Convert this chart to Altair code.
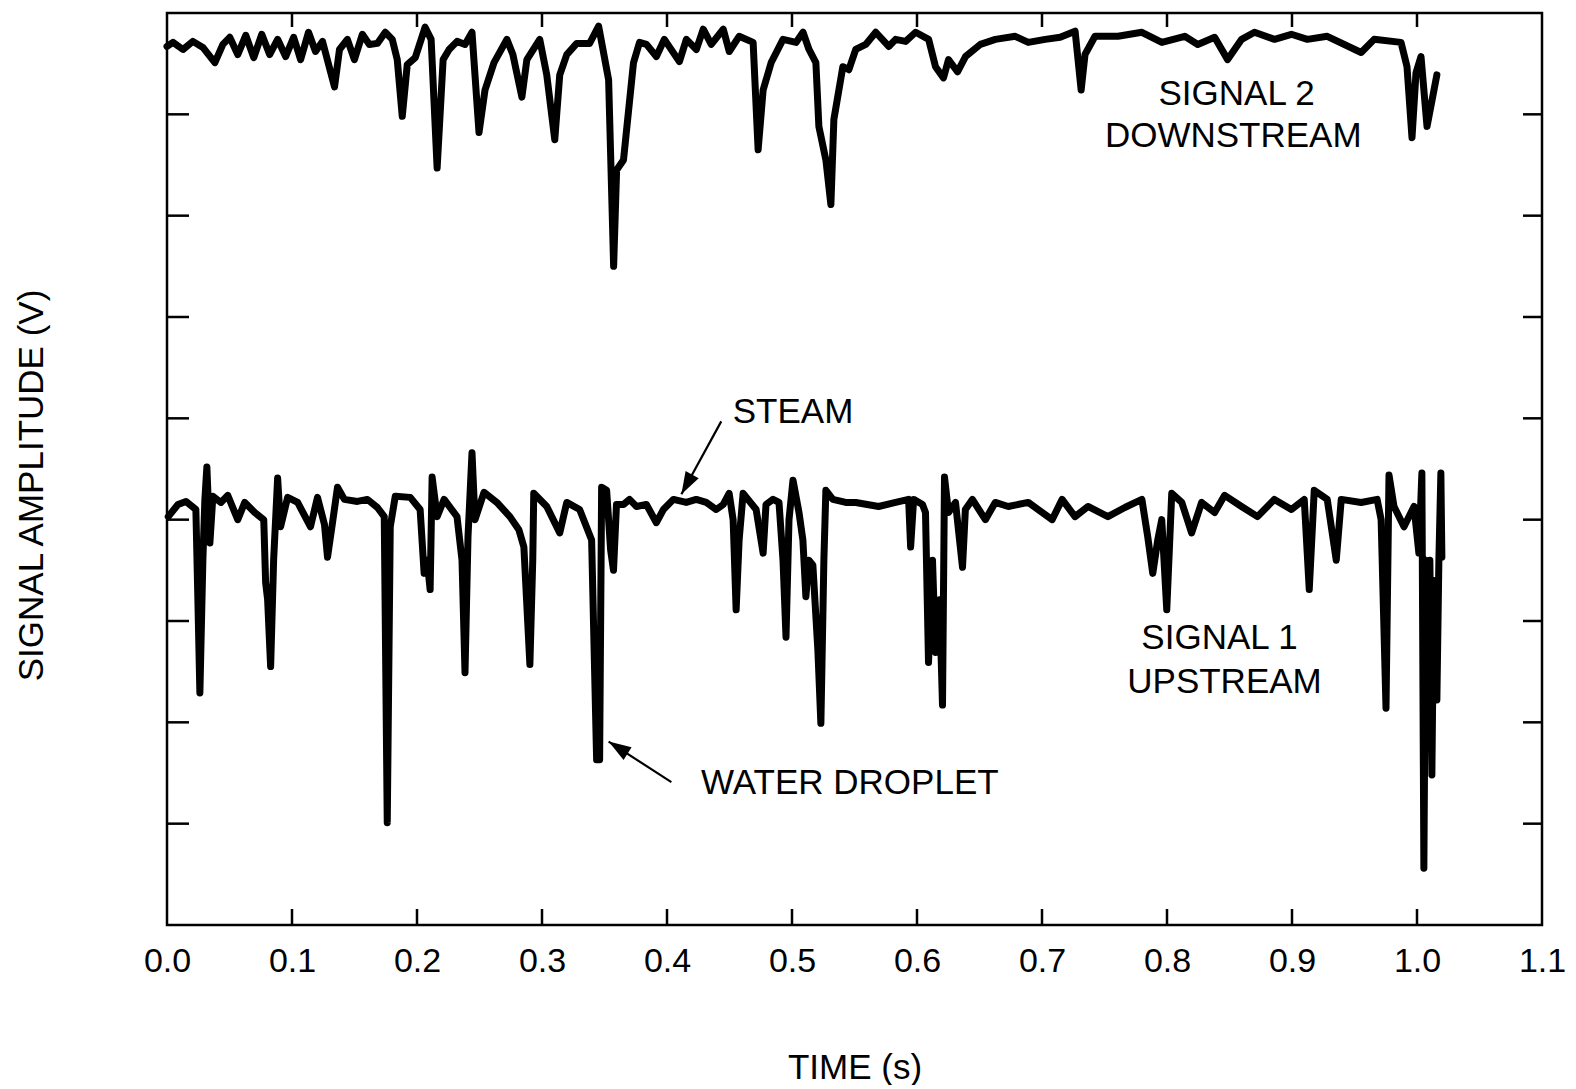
import altair as alt
import pandas as pd

# ---- Signal 2 (downstream), time in s, amplitude in divisions ----
t2 = [0.0, 0.0048, 0.0128, 0.0207, 0.0287, 0.0383, 0.0447, 0.0502, 0.0566, 0.0630,
      0.0694, 0.0758, 0.0821, 0.0885, 0.0949, 0.1013, 0.1069, 0.1132, 0.1188, 0.1244,
      0.1340, 0.1380, 0.1443, 0.1499, 0.1563, 0.1619, 0.1683, 0.1746, 0.1802, 0.1842,
      0.1882, 0.1922, 0.1986, 0.2065, 0.2113, 0.2161, 0.2209, 0.2257, 0.2321, 0.2384,
      0.2440, 0.2496, 0.2544, 0.2616, 0.2719, 0.2767, 0.2839, 0.2879, 0.2982, 0.3038,
      0.3102, 0.3142, 0.3198, 0.3278, 0.3381, 0.3453, 0.3533, 0.3573, 0.3597, 0.3652,
      0.3732, 0.3780, 0.3836, 0.3915, 0.3979, 0.4099, 0.4155, 0.4235, 0.4290, 0.4354,
      0.4450, 0.4498, 0.4577, 0.4689, 0.4729, 0.4769, 0.4833, 0.4928, 0.5032, 0.5088,
      0.5136, 0.5191, 0.5215, 0.5271, 0.5311, 0.5335, 0.5407, 0.5455, 0.5510, 0.5590,
      0.5670, 0.5774, 0.5829, 0.5909, 0.5989, 0.6093, 0.6148, 0.6212, 0.6252, 0.6324,
      0.6388, 0.6507, 0.6627, 0.6786, 0.6890, 0.7026, 0.7145, 0.7265, 0.7313, 0.7344,
      0.7424, 0.7608, 0.7799, 0.7959, 0.8142, 0.8246, 0.8381, 0.8485, 0.8597, 0.8700,
      0.8860, 0.8995, 0.9123, 0.9282, 0.9553, 0.9657, 0.9872, 0.9920, 0.9960, 0.9992,
      1.0032, 1.0080, 1.0159]
v2 = [8.67, 8.71, 8.64, 8.72, 8.66, 8.51, 8.69, 8.76, 8.59, 8.78,
      8.56, 8.79, 8.59, 8.74, 8.57, 8.76, 8.54, 8.81, 8.62, 8.72,
      8.27, 8.64, 8.74, 8.54, 8.79, 8.69, 8.70, 8.81, 8.74, 8.54,
      7.98, 8.49, 8.56, 8.86, 8.74, 7.47, 8.54, 8.64, 8.72, 8.69,
      8.81, 7.82, 8.24, 8.51, 8.74, 8.59, 8.17, 8.54, 8.74, 8.39,
      7.75, 8.39, 8.59, 8.70, 8.70, 8.87, 8.34, 6.50, 7.45, 7.55,
      8.51, 8.71, 8.69, 8.57, 8.74, 8.52, 8.74, 8.64, 8.84, 8.69,
      8.84, 8.62, 8.77, 8.71, 7.65, 8.24, 8.51, 8.74, 8.71, 8.81,
      8.64, 8.51, 7.88, 7.55, 7.11, 7.95, 8.47, 8.44, 8.64, 8.69,
      8.81, 8.67, 8.74, 8.72, 8.81, 8.74, 8.47, 8.36, 8.54, 8.42,
      8.57, 8.69, 8.74, 8.77, 8.71, 8.74, 8.76, 8.82, 8.24, 8.59,
      8.77, 8.77, 8.81, 8.71, 8.77, 8.69, 8.76, 8.54, 8.74, 8.81,
      8.74, 8.79, 8.74, 8.77, 8.61, 8.74, 8.71, 8.47, 7.77, 8.41,
      8.57, 7.88, 8.39]

# ---- Signal 1 (upstream) ----
t1 = [0.001, 0.0088, 0.0152, 0.0231, 0.0247, 0.0263, 0.0287, 0.0303, 0.0319, 0.0343,
      0.0367, 0.0431, 0.0486, 0.0566, 0.0622, 0.0702, 0.0774, 0.0789, 0.0805, 0.0829,
      0.0853, 0.0885, 0.0909, 0.0965, 0.1045, 0.1148, 0.1204, 0.1260, 0.1284, 0.1324,
      0.1364, 0.1419, 0.1523, 0.1603, 0.1683, 0.1738, 0.1762, 0.1786, 0.1826, 0.1946,
      0.2025, 0.2057, 0.2081, 0.2105, 0.2121, 0.2161, 0.2217, 0.2320, 0.2360, 0.2384,
      0.2408, 0.2440, 0.2464, 0.2536, 0.2639, 0.2743, 0.2815, 0.2855, 0.2903, 0.2926,
      0.2934, 0.3038, 0.3142, 0.3198, 0.3301, 0.3397, 0.3437, 0.3461, 0.3477, 0.3517,
      0.3549, 0.3572, 0.3596, 0.3652, 0.3700, 0.3756, 0.3835, 0.3915, 0.3971, 0.4051,
      0.4154, 0.4234, 0.4314, 0.4394, 0.4450, 0.4497, 0.4529, 0.4553, 0.4577, 0.4609,
      0.4713, 0.4769, 0.4792, 0.4848, 0.4896, 0.4928, 0.4952, 0.4976, 0.5008, 0.5056,
      0.5087, 0.5111, 0.5135, 0.5167, 0.5207, 0.5231, 0.5255, 0.5271, 0.5327, 0.5430,
      0.5510, 0.5693, 0.5829, 0.5933, 0.5949, 0.5973, 0.6044, 0.6068, 0.6092, 0.6124,
      0.6148, 0.6180, 0.6204, 0.6220, 0.6252, 0.6308, 0.6364, 0.6387, 0.6443, 0.6547,
      0.6626, 0.6730, 0.6890, 0.7081, 0.7161, 0.7264, 0.7368, 0.7527, 0.7663, 0.7799,
      0.7846, 0.7886, 0.7926, 0.7958, 0.7998, 0.8038, 0.8118, 0.8197, 0.8277, 0.8381,
      0.8461, 0.8596, 0.8724, 0.8859, 0.8995, 0.9098, 0.9138, 0.9178, 0.9282, 0.9354,
      0.9394, 0.9553, 0.9681, 0.9713, 0.9752, 0.9776, 0.9816, 0.9896, 0.9976, 1.0015,
      1.0039, 1.0055, 1.0071, 1.0087, 1.0103, 1.0119, 1.0135, 1.0159, 1.0175, 1.0191,
      1.0199]
v1 = [4.03, 4.15, 4.18, 4.10, 3.21, 2.29, 3.60, 4.20, 4.52, 3.77,
      4.23, 4.17, 4.24, 4.00, 4.17, 4.07, 4.00, 3.38, 3.21, 2.55,
      3.60, 4.41, 3.93, 4.22, 4.17, 3.93, 4.22, 3.95, 3.63, 3.97,
      4.32, 4.20, 4.18, 4.20, 4.12, 4.03, 1.01, 3.93, 4.23, 4.22,
      4.10, 3.47, 3.60, 3.31, 4.42, 4.03, 4.20, 4.03, 3.60, 2.49,
      3.83, 4.66, 4.00, 4.27, 4.17, 4.03, 3.90, 3.73, 2.57, 3.60,
      4.26, 4.13, 3.87, 4.17, 4.10, 3.80, 1.63, 1.63, 4.32, 4.29,
      3.70, 3.50, 4.15, 4.15, 4.20, 4.13, 4.15, 3.97, 4.10, 4.20,
      4.17, 4.20, 4.17, 4.10, 4.15, 4.26, 4.00, 3.11, 3.80, 4.26,
      4.10, 3.67, 4.15, 4.20, 4.17, 3.60, 2.84, 4.00, 4.39, 4.07,
      3.80, 3.24, 3.60, 3.55, 2.71, 1.99, 3.60, 4.29, 4.20, 4.17,
      4.17, 4.13, 4.17, 4.20, 3.73, 4.20, 4.15, 4.07, 2.59, 3.60,
      2.69, 3.21, 2.17, 4.42, 4.07, 4.17, 3.53, 4.10, 4.20, 4.00,
      4.17, 4.13, 4.17, 4.00, 4.20, 4.03, 4.13, 4.03, 4.12, 4.20,
      3.83, 3.47, 3.80, 4.00, 3.11, 4.26, 4.17, 3.87, 4.17, 4.07,
      4.24, 4.13, 4.03, 4.20, 4.10, 4.20, 3.31, 4.29, 4.20, 3.60,
      4.20, 4.17, 4.20, 4.00, 2.14, 4.44, 4.13, 3.93, 4.13, 3.67,
      4.46, 0.56, 3.60, 2.22, 3.60, 1.48, 3.40, 2.22, 3.60, 4.46,
      3.63]

# ---- axes ----
x_label_values = [0.0, 0.1, 0.2, 0.3, 0.4, 0.5, 0.6, 0.7, 0.8, 0.9, 1.0, 1.1]
x_inner_ticks = [0.1, 0.2, 0.3, 0.4, 0.5, 0.6, 0.7, 0.8, 0.9, 1.0]
y_inner_ticks = [1, 2, 3, 4, 5, 6, 7, 8]

# ---- annotations ----
note_text = ["SIGNAL 2", "DOWNSTREAM", "SIGNAL 1", "UPSTREAM", "STEAM", "WATER DROPLET"]
note_t = [0.8557, 0.8530, 0.8420, 0.8460, 0.5008, 0.5463]
note_v = [8.20, 7.79, 2.83, 2.40, 5.06, 1.40]

arrow_t_start = [0.4434, 0.4035]
arrow_v_start = [4.97, 1.41]
arrow_t_tip = [0.4115, 0.3533]
arrow_v_tip = [4.25, 1.81]
arrow_angle = [208.7, 302.4]

W, H = 1375, 912
FONT = "Liberation Sans"

xscale = alt.Scale(domain=[0, 1.1], nice=False, zero=False)
yscale = alt.Scale(domain=[0, 9], nice=False, zero=False)

x_axis = alt.Axis(
    values=x_label_values, format=".1f", ticks=False, domain=False, grid=False,
    labelFontSize=34, labelFont=FONT, labelColor="black", labelPadding=19,
    title="TIME (s)", titleFontSize=35, titleFont=FONT, titleFontWeight="normal",
    titleColor="black", titlePadding=72, labelFlush=False)
y_axis = alt.Axis(
    labels=False, ticks=False, domain=False, grid=False,
    title="SIGNAL AMPLITUDE (V)", titleFontSize=35, titleFont=FONT,
    titleFontWeight="normal", titleColor="black", titlePadding=118, titleY=472)


def X(field):
    return alt.X(field, scale=xscale, axis=x_axis, title="TIME (s)")


def Y(field):
    return alt.Y(field, scale=yscale, axis=y_axis, title="SIGNAL AMPLITUDE (V)")


sig = pd.DataFrame({
    "t": t2 + t1,
    "v": v2 + v1,
    "signal": ["Signal 2"] * len(t2) + ["Signal 1"] * len(t1),
    "i": list(range(len(t2))) + list(range(len(t1))),
})

lines = alt.Chart(sig).mark_line(
    color="black", strokeWidth=7, strokeJoin="round", strokeCap="round"
).encode(
    x=X("t:Q"), y=Y("v:Q"), detail="signal:N", order="i:Q",
)

xt = pd.DataFrame({"x": x_inner_ticks})
yt = pd.DataFrame({"y": y_inner_ticks})

bottom_ticks = alt.Chart(xt).mark_rule(color="black", strokeWidth=2.5).encode(
    x=X("x:Q"), y=alt.value(H), y2=alt.value(H - 16))
top_ticks = alt.Chart(xt).mark_rule(color="black", strokeWidth=2.5).encode(
    x=X("x:Q"), y=alt.value(0), y2=alt.value(14))
left_ticks = alt.Chart(yt).mark_rule(color="black", strokeWidth=2.5).encode(
    y=Y("y:Q"), x=alt.value(0), x2=alt.value(22))
right_ticks = alt.Chart(yt).mark_rule(color="black", strokeWidth=2.5).encode(
    y=Y("y:Q"), x=alt.value(W), x2=alt.value(W - 19))

notes = alt.Chart(pd.DataFrame({"txt": note_text, "t": note_t, "v": note_v})).mark_text(
    font=FONT, fontSize=35, color="black", align="center", baseline="middle"
).encode(
    x=X("t:Q"), y=Y("v:Q"), text="txt:N",
)

arr = pd.DataFrame({"t0": arrow_t_start, "v0": arrow_v_start,
                    "t1": arrow_t_tip, "v1": arrow_v_tip, "a": arrow_angle})
arrow_lines = alt.Chart(arr).mark_rule(color="black", strokeWidth=2.2).encode(
    x=X("t0:Q"), y=Y("v0:Q"), x2="t1:Q", y2="v1:Q")
arrow_heads = alt.Chart(arr).mark_point(
    shape="M0,0L0.4,1.2L-0.4,1.2Z", filled=True, color="black", opacity=1, size=1400
).encode(
    x=X("t1:Q"), y=Y("v1:Q"), angle=alt.Angle("a:Q", scale=None))

chart = alt.layer(
    lines, bottom_ticks, top_ticks, left_ticks, right_ticks, notes, arrow_lines, arrow_heads
).properties(
    width=W, height=H, autosize="none",
    padding={"left": 159, "top": 5, "right": 26, "bottom": 160},
    background="white",
).configure_view(stroke="black", strokeWidth=2.5)

chart.save("out.html", embed_options={"renderer": "svg", "actions": False})
